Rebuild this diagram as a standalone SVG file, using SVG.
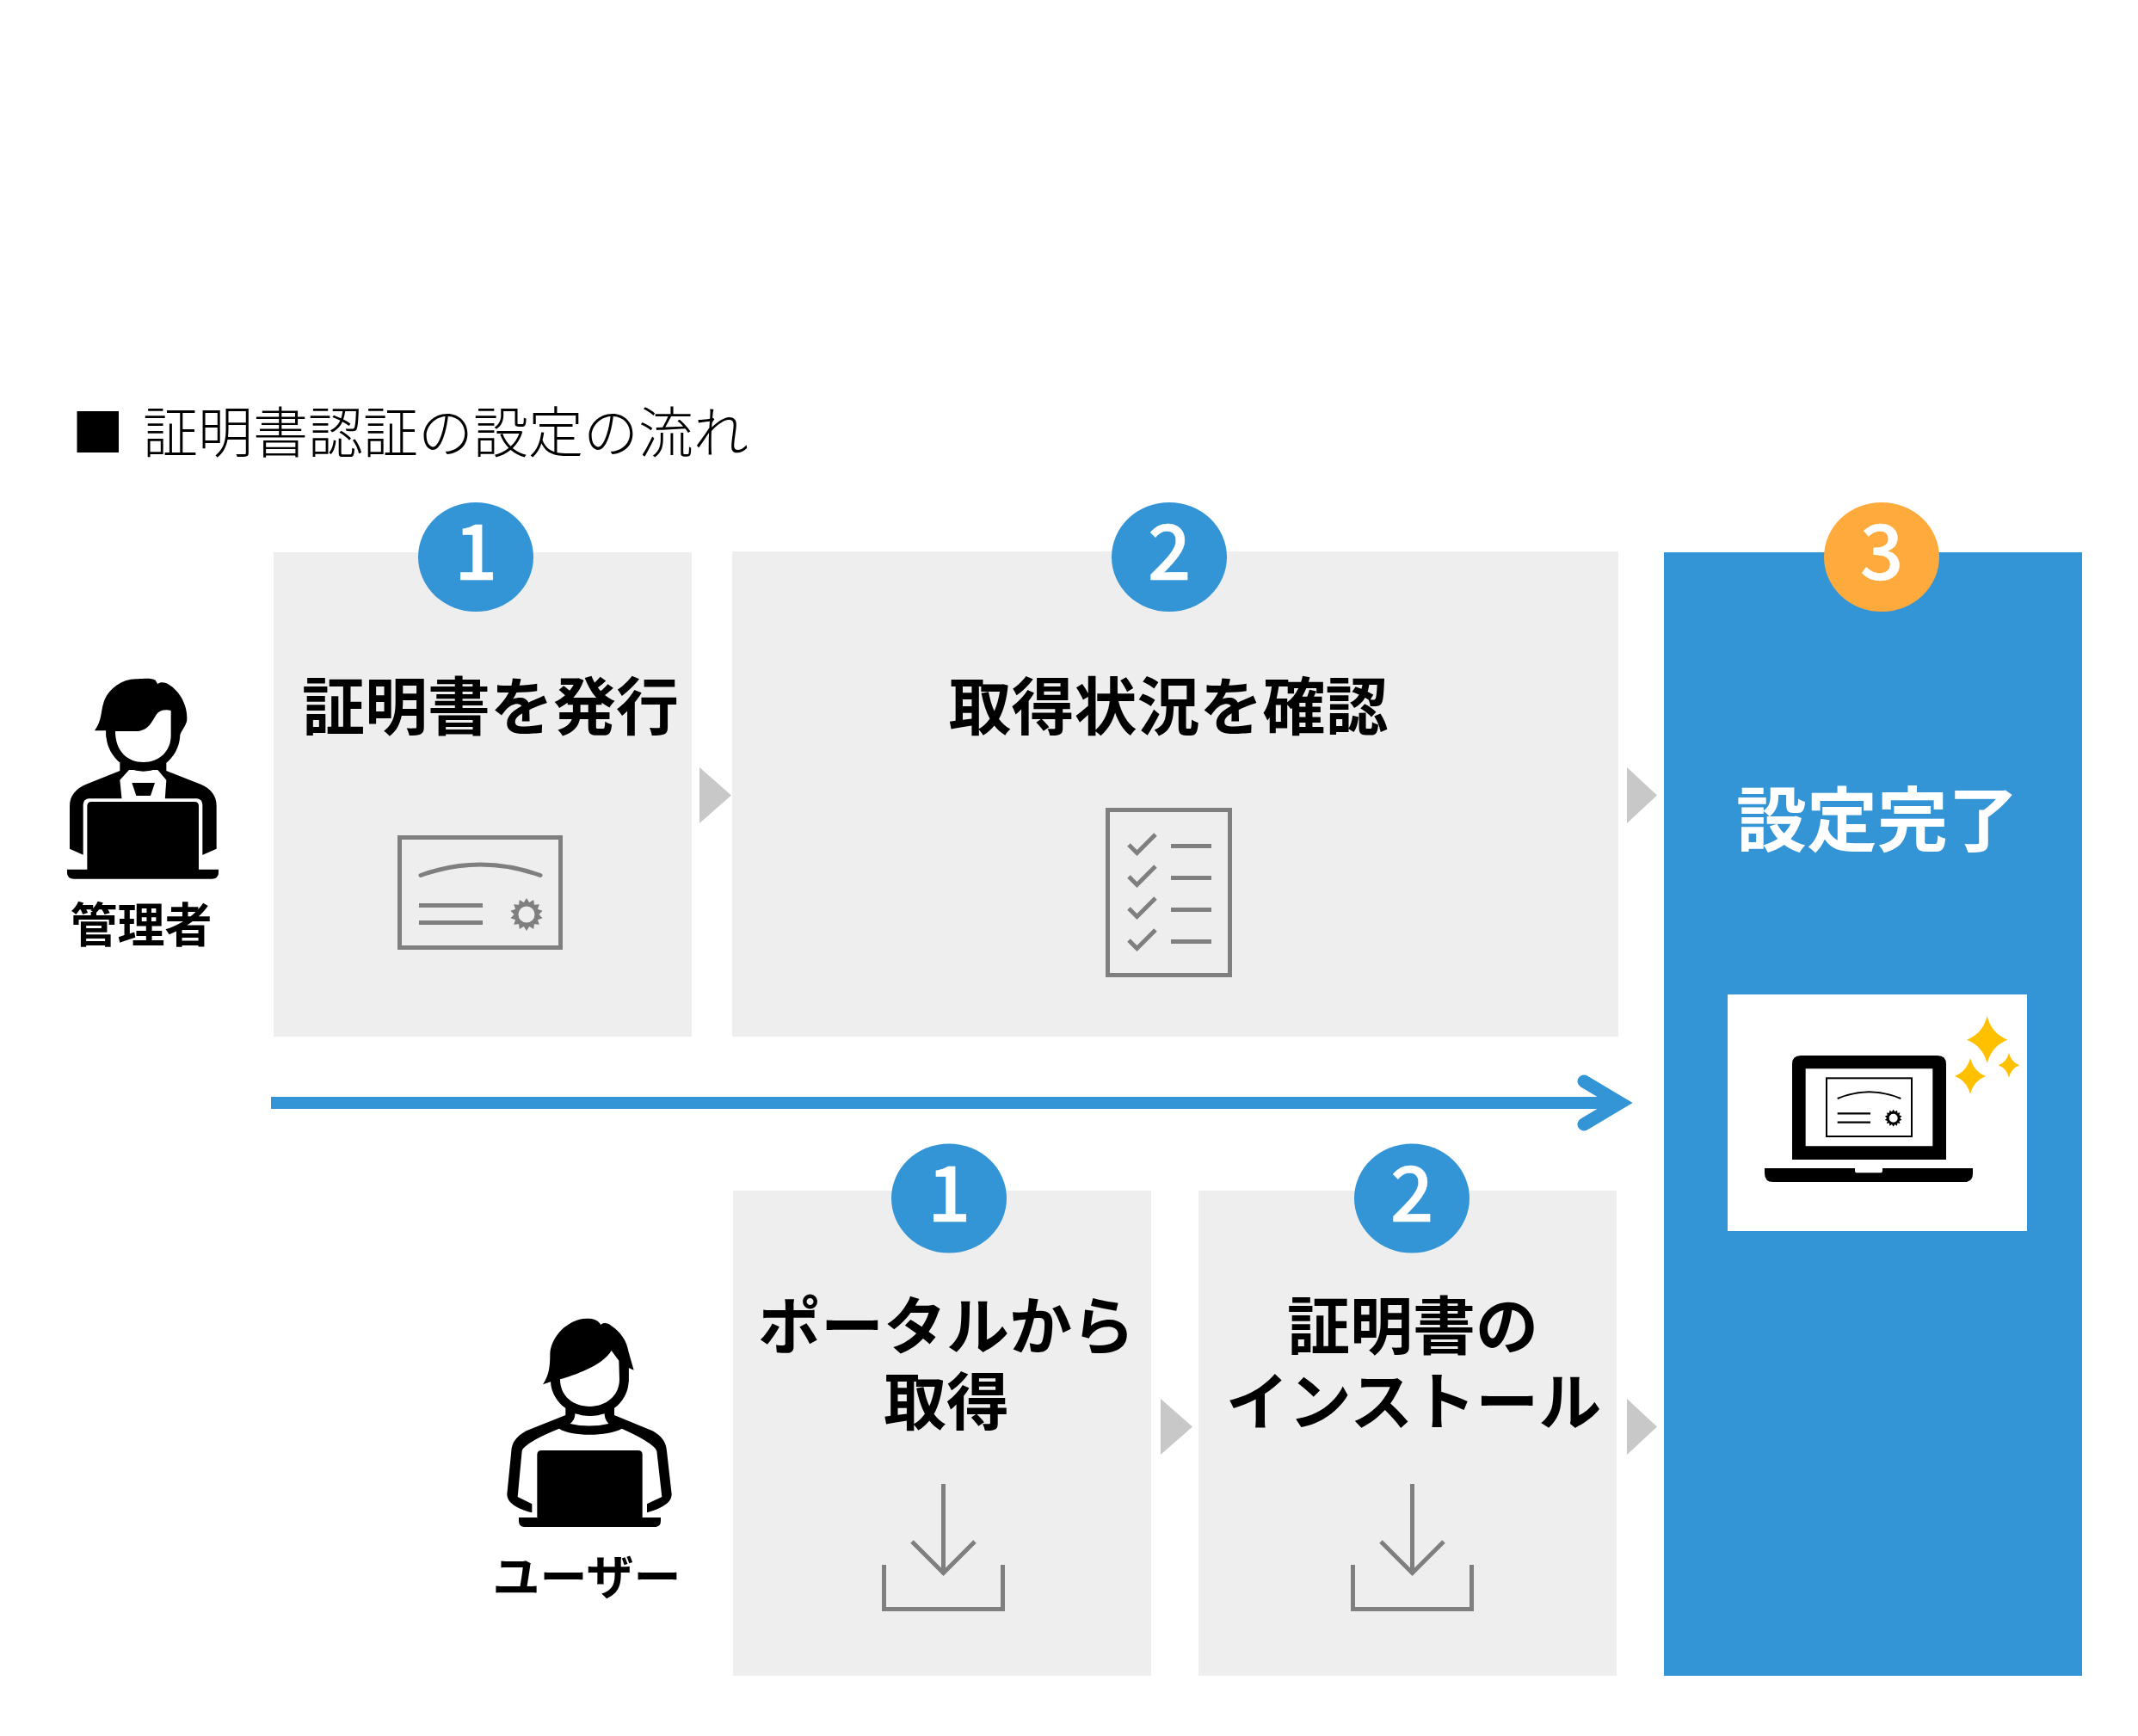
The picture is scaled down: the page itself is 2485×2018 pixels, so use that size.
<svg xmlns="http://www.w3.org/2000/svg" xmlns:xlink="http://www.w3.org/1999/xlink" width="2485" height="2018" viewBox="0 0 2485 2018">
<style>
text{font-family:"Noto Sans CJK JP","Noto Sans",sans-serif}
.box{fill:#eeeeee}
.blue{fill:#3394d6}
.tri{fill:#c8c8c8}
.h{font-size:73px;font-weight:700;fill:#000;text-anchor:middle}
.lab{font-size:55px;font-weight:700;fill:#000;text-anchor:middle}
.num{font-size:89px;font-weight:500;fill:#fff;stroke:#fff;stroke-width:.5px;text-anchor:middle}
.ic{fill:none;stroke:#7f7f7f;stroke-width:5}
.k{fill:#000}
.w{fill:#fff}
.sp{fill:#ffc000}
</style>
<defs>
<path id="gear" fill-rule="evenodd" d="M0,-1L.17,-.74L.434,-.901L.47,-.59L.782,-.623L.68,-.33L.975,-.222L.76,0L.975,.222L.68,.33L.782,.623L.47,.59L.434,.901L.17,.74L0,1L-.17,.74L-.434,.901L-.47,.59L-.782,.623L-.68,.33L-.975,.222L-.76,0L-.975,-.222L-.68,-.33L-.782,-.623L-.47,-.59L-.434,-.901L-.17,-.74ZM-.5,0A.5,.5 0 1 0 .5,0A.5,.5 0 1 0 -.5,0Z"/>
<g id="download" class="ic">
<path d="M1096.5,1725V1830"/>
<path d="M1060,1792L1096.5,1828.500L1133,1792"/>
<path d="M1027.500,1819V1870.500H1165.500V1819"/>
</g>
</defs>
<rect width="2485" height="2018" fill="#fff"/>

<g id="title">
<rect class="k" x="89.500" y="478" width="48.500" height="48"/>
<text x="166" y="525.500" font-size="64" font-weight="300" fill="#000">証明書認証の設定の流れ</text>
</g>

<g id="connectors">
<path class="tri" d="M813,892L850,924.500L813,957Z"/>
<path class="tri" d="M1891,892L1926,924.500L1891,957Z"/>
<path class="tri" d="M1349,1626L1386,1658.500L1349,1691Z"/>
<path class="tri" d="M1891,1626L1926,1658.500L1891,1691Z"/>
<path d="M315,1282H1880" fill="none" stroke="#3394d6" stroke-width="14"/>
<path d="M1841,1257L1883,1282L1841,1307" fill="none" stroke="#3394d6" stroke-width="15" stroke-linecap="round" stroke-miterlimit="8"/>
</g>

<g id="admin">
<g transform="translate(60,760) scale(.33333)">
<path class="k" d="M238,380V408L120,455C85,470 63,495 63,530V680L112,702H525L575,680V530C575,495 555,470 520,455L400,408V380Z"/>
<path class="w" d="M238,440L270,405H370L400,440L395,510H245Z"/>
<path class="k" d="M280,450H360L345,495H295Z"/>
<rect class="w" x="110" y="505" width="416" height="260" rx="20"/>
<path class="k" d="M124,752V531Q124,516 139,516H498Q513,516 513,531V752H582V762Q582,785 559,785H77Q54,785 54,762V752Z"/>
<path class="k" d="M190,250V280C190,350 250,410 320,410C390,410 448,350 448,280V250Z"/>
<path class="k" d="M150,268C175,235 172,200 180,175C195,120 250,85 300,88C330,85 350,85 362,92L370,106C380,96 395,100 405,105C450,130 475,185 472,230C470,250 450,270 445,290H190V268Z"/>
<path class="w" d="M222,270H300C340,265 350,235 365,212C375,198 395,193 416,198V285C416,340 375,378 320,378C265,378 222,340 222,270Z"/>
</g>
<text class="lab" x="164" y="1095">管理者</text>
</g>

<g id="user">
<g transform="translate(570,1510) scale(.33333)">
<path class="k" d="M262,370V405L125,460C90,480 75,500 73,530L58,680C58,710 90,730 145,745V715L95,690L110,530C115,510 170,480 240,452C280,480 410,480 458,452C520,480 575,510 580,530L598,690L546,715V745C600,730 633,710 632,680L615,530C612,500 600,480 565,460L432,405V370Z"/>
<path class="w" d="M295,400C295,415 290,425 278,435C320,445 370,445 412,435C400,420 398,410 398,400Z"/>
<path class="k" d="M210,200V285C210,350 270,408 347,408C425,408 482,350 482,285V200Z"/>
<path class="k" d="M183,298C205,265 208,235 208,190C212,130 270,70 335,68C360,68 375,72 385,90C395,80 410,85 420,92C455,115 475,145 482,185L500,248L482,240V290H212V288Z"/>
<path class="w" d="M243,280C320,258 395,225 422,180L448,215L450,280C450,340 400,375 347,375C290,375 243,340 243,280Z"/>
<path class="k" d="M163,765V543Q163,528 178,528H515Q530,528 530,543V762H594V775Q594,795 574,795H119Q99,795 99,775V762H163Z"/>
</g>
<text class="lab" x="682" y="1853">ユーザー</text>
</g>

<g id="step-issue">
<rect class="box" x="318" y="642" width="486" height="563"/>
<ellipse class="blue" cx="553" cy="647.500" rx="67" ry="63.500"/>
<text class="num" x="553" y="674">1</text>
<text class="h" x="570" y="848">証明書を発行</text>
<g class="ic">
<rect x="464.500" y="973.500" width="187" height="128"/>
<path d="M489,1017.500Q558,992.500 628,1017.500" stroke-linecap="round"/>
<path d="M487,1052.500H561M487,1072.500H561"/>
</g>
<use xlink:href="#gear" href="#gear" fill="#7f7f7f" transform="translate(612,1063) scale(19)"/>
</g>

<g id="step-check">
<rect class="box" x="851" y="641" width="1030" height="564"/>
<ellipse class="blue" cx="1359" cy="647.500" rx="67" ry="63.500"/>
<text class="num" x="1359" y="674">2</text>
<text class="h" x="1358" y="848">取得状況を確認</text>
<g class="ic">
<rect x="1287.500" y="941.500" width="142" height="192"/>
<path d="M1312,982L1321.500,991.500L1343,970M1312,1019L1321.500,1028.500L1343,1007M1312,1056L1321.500,1065.500L1343,1044M1312,1093L1321.500,1102.500L1343,1081"/>
<path d="M1361,983.500H1408M1361,1020.500H1408M1361,1057.500H1408M1361,1094.500H1408"/>
</g>
</g>

<g id="step-portal">
<rect class="box" x="852" y="1384" width="486" height="564"/>
<ellipse class="blue" cx="1103" cy="1393" rx="67" ry="63.500"/>
<text class="num" x="1103" y="1420">1</text>
<text class="h" x="1100" y="1568">ポータルから</text>
<text class="h" x="1100" y="1656">取得</text>
<use xlink:href="#download" href="#download"/>
</g>

<g id="step-install">
<rect class="box" x="1393" y="1384" width="486" height="564"/>
<ellipse class="blue" cx="1641" cy="1393" rx="67" ry="63.500"/>
<text class="num" x="1641" y="1420">2</text>
<text class="h" x="1642" y="1568">証明書の</text>
<text class="h" x="1643" y="1656">インストール</text>
<use xlink:href="#download" href="#download" transform="translate(545,0)"/>
</g>

<g id="step-done">
<rect class="blue" x="1934" y="642" width="486" height="1306"/>
<ellipse fill="#ffaa3c" cx="2187" cy="647.500" rx="67" ry="63.500"/>
<text class="num" x="2187" y="674">3</text>
<text x="2182" y="983" font-size="82" font-weight="700" fill="#fff" text-anchor="middle">設定完了</text>
<rect class="w" x="2008" y="1156" width="348" height="275"/>
<g transform="translate(2000,1150) scale(.33333)">
<path class="k" fill-rule="evenodd" d="M249,594V261Q249,231 279,231H756Q786,231 786,261V594ZM296,277V547H739V277Z"/>
<path class="k" d="M153,624H468V632Q468,640 476,640H556Q564,640 564,632V624H879V642Q879,672 849,672H183Q153,672 153,642Z"/>
<rect x="369" y="310" width="297" height="203" fill="none" stroke="#000" stroke-width="6"/>
<path d="M407,381Q518,335 628,381" fill="none" stroke="#000" stroke-width="6"/>
<path d="M407,433H522M407,464H522" fill="none" stroke="#000" stroke-width="7"/>
<use xlink:href="#gear" href="#gear" fill="#000" transform="translate(602,449) scale(30)"/>
<path class="sp" d="M929,94Q945,155 1000,176Q945,197 929,258Q913,197 858,176Q913,155 929,94Z"/>
<path class="sp" d="M870,240Q882,287 924,303Q882,319 870,365Q858,319 816,303Q858,287 870,240Z"/>
<path class="sp" d="M1005,222Q1013,254 1042,265Q1013,276 1005,308Q997,276 968,265Q997,254 1005,222Z"/>
</g>
</g>
</svg>
